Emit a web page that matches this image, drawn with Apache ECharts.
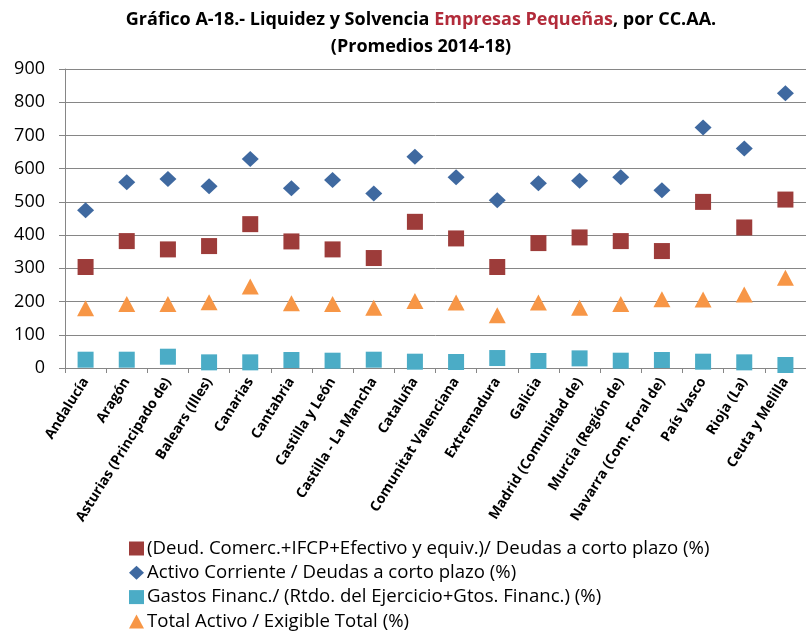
<!DOCTYPE html>
<html><head><meta charset="utf-8">
<script src="https://cdn.jsdelivr.net/npm/echarts@6/dist/echarts.min.js"></script>
<style>html,body{margin:0;padding:0;background:#fff}#c{width:806px;height:632px}</style>
</head><body><div id="c"></div>
<script>
const categories = ["Andalucía","Aragón","Asturias (Principado de)","Balears (Illes)","Canarias","Cantabria","Castilla y León","Castilla - La Mancha","Cataluña","Comunitat Valenciana","Extremadura","Galicia","Madrid (Comunidad de)","Murcia (Región de)","Navarra (Com. Foral de)","País Vasco","Rioja (La)","Ceuta y Melilla"];
const deudComerc = [304,382,357,367,433,381,357,331,440,390,304,376,393,382,352,500,423,507];
const activoCorriente = [475,559,569,547,629,541,566,525,636,574,505,556,564,574,535,724,661,827];
const gastosFinanc = [25,25,34,17,17,24,22,25,19,18,30,21,29,22,24,19,17,9];
const totalActivo = [180,193,193,198,245,195,193,181,202,197,159,197,181,193,207,206,221,272];
const yTicks = {min:0, max:900, interval:100};
const seriesNames = ["(Deud. Comerc.+IFCP+Efectivo y equiv.)/ Deudas a corto plazo (%)","Activo Corriente / Deudas a corto plazo (%)","Gastos Financ./ (Rtdo. del Ejercicio+Gtos. Financ.) (%)","Total Activo / Exigible Total (%)"];

const chart = echarts.init(document.getElementById('c'), null, {renderer:'canvas'});
const F = '"Open Sans", sans-serif';
chart.setOption({
  animation:false,
  textStyle:{fontFamily:F},
  title:{
    text:'{a|Gráfico A-18.- Liquidez y Solvencia }{b|Empresas Pequeñas}{a|, por CC.AA.}\n{a|(Promedios 2014-18)}',
    left:416, textAlign:'center', top:1,
    textStyle:{rich:{
      a:{fontFamily:F,fontWeight:'bold',fontSize:18,color:'#000',lineHeight:27},
      b:{fontFamily:F,fontWeight:'bold',fontSize:18,color:'#B22B3A',lineHeight:27}
    }}
  },
  grid:{left:65, top:69, width:749.5, height:299, containLabel:false},
  legend:{
    orient:'vertical', left:129, top:539, padding:0, itemWidth:15, itemHeight:14, itemGap:5.3,
    textStyle:{fontFamily:F,fontSize:18.6,lineHeight:18,color:'#000',padding:[0,0,0,-2]},
    data:[
      {name:seriesNames[0],icon:'rect'},
      {name:seriesNames[1],icon:'diamond'},
      {name:seriesNames[2],icon:'rect'},
      {name:seriesNames[3],icon:'triangle'}
    ]
  },
  xAxis:{
    type:'category', data:categories, boundaryGap:true,
    axisLine:{lineStyle:{color:'#868686',width:1}},
    axisTick:{show:true,length:5,lineStyle:{color:'#868686'}},
    axisLabel:{rotate:58,interval:0,margin:11,fontFamily:F,fontWeight:'bold',fontSize:14,color:'#000'},
    splitLine:{show:false}
  },
  yAxis:{
    type:'value', min:yTicks.min, max:yTicks.max, interval:yTicks.interval,
    axisLine:{show:true,lineStyle:{color:'#868686'}},
    axisTick:{show:true,length:6,lineStyle:{color:'#868686'}},
    axisLabel:{margin:20,fontFamily:F,fontSize:18,color:'#000'},
    splitLine:{lineStyle:{color:'#868686',width:1}}
  },
  series:[
    {name:seriesNames[0],type:'scatter',data:deudComerc,symbol:'rect',symbolSize:16,itemStyle:{color:'#9D3C3A',opacity:1}},
    {name:seriesNames[1],type:'scatter',data:activoCorriente,symbol:'diamond',symbolSize:[17,16],itemStyle:{color:'#3F69A0',opacity:1}},
    {name:seriesNames[2],type:'scatter',data:gastosFinanc,symbol:'rect',symbolSize:16,itemStyle:{color:'#4BACC6',opacity:1}},
    {name:seriesNames[3],type:'scatter',data:totalActivo,symbol:'triangle',symbolSize:[17,16],itemStyle:{color:'#F79646',opacity:1}}
  ]
});
</script></body></html>
